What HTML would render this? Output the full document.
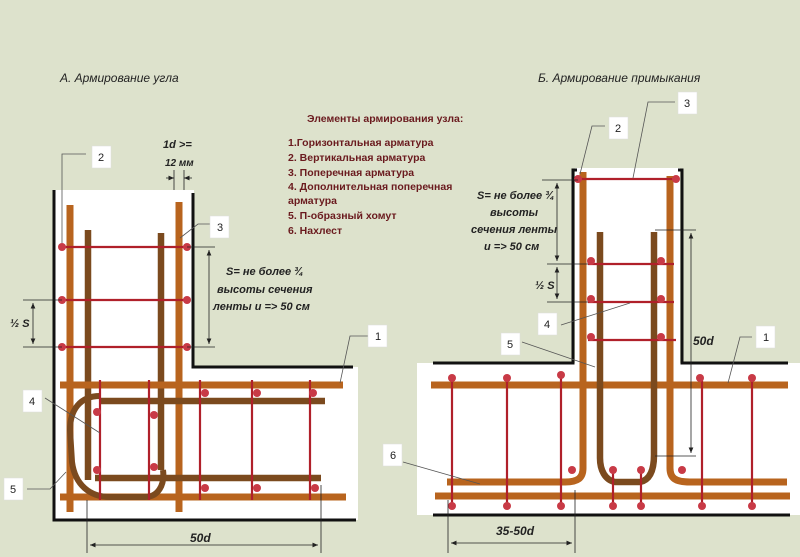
<!DOCTYPE html>
<html><head><meta charset="utf-8"><style>
html,body{margin:0;padding:0;background:#dde2cc;}
svg{display:block}
text{font-family:"Liberation Sans","DejaVu Sans",sans-serif;}
.lg{font-weight:bold;fill:#6a1a1e;font-size:10.5px}
.it{font-style:italic;font-weight:bold;font-size:11px;fill:#222}
.bx{fill:#fff;stroke:#ddd;stroke-width:0.5}
.nb{font-size:11px;fill:#222;text-anchor:middle}
.br{stroke:#b8641e;stroke-width:7}
.dk{stroke:#7b4a1e;stroke-width:6.5}
.rd{stroke:#b0202a;stroke-width:2.2}
.dot{fill:#c83a46}
.ol{stroke:#111;stroke-width:3;fill:none}
.thin{stroke:#222;stroke-width:0.8;fill:none}
.lead{stroke:#555;stroke-width:0.8;fill:none}
</style></head><body>
<svg width="800" height="557" viewBox="0 0 800 557" xmlns="http://www.w3.org/2000/svg">
<defs><marker id="a" markerWidth="8" markerHeight="8" refX="7" refY="4" orient="auto-start-reverse"><path d="M0,1 L7,4 L0,7Z" fill="#222"/></marker></defs>
<rect width="800" height="557" fill="#dde2cc"/>
<text x="60" y="82" class="it" style="font-weight:normal;font-size:12px">А. Армирование угла</text>
<text x="538" y="82" class="it" style="font-weight:normal;font-size:12px">Б. Армирование примыкания</text>
<text x="307" y="122" class="lg">Элементы армирования узла:</text>
<text x="288" y="146" class="lg">1.Горизонтальная арматура</text>
<text x="288" y="161" class="lg">2. Вертикальная арматура</text>
<text x="288" y="176" class="lg">3. Поперечная арматура</text>
<text x="288" y="190" class="lg">4. Дополнительная поперечная</text>
<text x="288" y="204" class="lg">арматура</text>
<text x="288" y="219" class="lg">5. П-образный хомут</text>
<text x="288" y="234" class="lg">6. Нахлест</text>

<!-- LEFT -->
<path d="M54,190 H194 V367 H358 V520 H54Z" fill="#fff"/>
<path d="M54,190 V520 H356" class="ol"/>
<path d="M193,193 V367 H353" class="ol"/>
<line x1="70" y1="205" x2="70" y2="512" class="br"/>
<line x1="179" y1="202" x2="179" y2="512" class="br"/>
<line x1="88" y1="230" x2="88" y2="480" class="dk"/>
<line x1="161" y1="233" x2="161" y2="470" class="dk"/>
<line x1="60" y1="385" x2="343" y2="385" class="br"/>
<line x1="100" y1="401" x2="325" y2="401" class="dk"/>
<line x1="95" y1="478" x2="321" y2="478" class="dk"/>
<line x1="60" y1="497" x2="346" y2="497" class="br"/>
<path d="M100,396 C80,396 70,410 70,430 L72,462 C75,485 90,497 110,497 H145 C158,497 165,485 163,470" stroke="#7b4a1e" stroke-width="6" fill="none"/>
<g class="rd"><line x1="62" y1="247" x2="187" y2="247"/><line x1="62" y1="300" x2="187" y2="300"/><line x1="62" y1="347" x2="187" y2="347"/>
<line x1="100" y1="380" x2="100" y2="500"/><line x1="149" y1="380" x2="149" y2="500"/><line x1="200" y1="380" x2="200" y2="500"/><line x1="252" y1="380" x2="252" y2="500"/><line x1="310" y1="380" x2="310" y2="500"/></g>
<g class="dot"><circle cx="62" cy="247" r="4"/><circle cx="187" cy="247" r="4"/><circle cx="62" cy="300" r="4"/><circle cx="187" cy="300" r="4"/><circle cx="62" cy="347" r="4"/><circle cx="187" cy="347" r="4"/>
<circle cx="205" cy="393" r="4"/><circle cx="257" cy="393" r="4"/><circle cx="313" cy="393" r="4"/><circle cx="97" cy="412" r="4"/><circle cx="154" cy="415" r="4"/><circle cx="97" cy="470" r="4"/><circle cx="154" cy="467" r="4"/><circle cx="205" cy="488" r="4"/><circle cx="257" cy="488" r="4"/><circle cx="315" cy="488" r="4"/></g>
<!-- dims left -->
<path d="M174,170 V190 M184,170 V190" class="thin"/>
<line x1="166" y1="178" x2="174" y2="178" class="thin" marker-end="url(#a)"/><line x1="192" y1="178" x2="184" y2="178" class="thin" marker-end="url(#a)"/>
<text x="163" y="148" class="it">1d &gt;=</text><text x="165" y="166" class="it" style="font-size:10px">12 мм</text>
<path d="M187,247 H215 M187,347 H215" class="thin"/>
<line x1="209" y1="250" x2="209" y2="344" class="thin" marker-start="url(#a)" marker-end="url(#a)"/>
<text x="226" y="275" class="it">S= не более ¾</text><text x="217" y="293" class="it">высоты сечения</text><text x="213" y="310" class="it">ленты и =&gt; 50 см</text>
<path d="M23,300 H62 M23,347 H62" class="thin"/>
<line x1="33" y1="303" x2="33" y2="344" class="thin" marker-start="url(#a)" marker-end="url(#a)"/>
<text x="10" y="327" class="it">½ S</text>
<path d="M87,500 V553 M321,485 V553" class="thin"/>
<line x1="90" y1="545" x2="318" y2="545" class="thin" marker-start="url(#a)" marker-end="url(#a)"/>
<text x="190" y="542" class="it" style="font-size:12px">50d</text>
<!-- leaders left -->
<path d="M62,243 V154 H86" class="lead"/><path d="M180,238 L198,224 H210" class="lead"/>
<path d="M340,383 L350,336 H368" class="lead"/><path d="M45,398 L100,433" class="lead"/><path d="M27,489 H50 L66,472" class="lead"/>
<rect x="92" y="146" width="19" height="22" class="bx"/><text x="101" y="161" class="nb">2</text>
<rect x="210" y="216" width="19" height="22" class="bx"/><text x="220" y="231" class="nb">3</text>
<rect x="368" y="325" width="19" height="22" class="bx"/><text x="378" y="340" class="nb">1</text>
<rect x="23" y="390" width="19" height="22" class="bx"/><text x="32" y="405" class="nb">4</text>
<rect x="4" y="478" width="19" height="22" class="bx"/><text x="13" y="493" class="nb">5</text>
<rect x="383" y="444" width="19" height="22" class="bx"/><text x="393" y="459" class="nb">6</text>

<!-- RIGHT -->
<path d="M575,168 H680 V363 H800 V515 H417 V363 H575Z" fill="#fff"/>
<path d="M577,170 H573 V363 H433" class="ol"/>
<path d="M678,170 H682 V363 H788" class="ol"/>
<line x1="433" y1="515" x2="790" y2="515" class="ol"/>
<line x1="431" y1="385" x2="788" y2="385" class="br"/>
<line x1="435" y1="496" x2="790" y2="496" class="br"/>
<line x1="447" y1="482" x2="565" y2="482" class="br"/>
<line x1="690" y1="482" x2="787" y2="482" class="br"/>
<path d="M583,172 V468 C583,478 578,482 565,482" class="br" fill="none"/>
<path d="M670,176 V468 C670,478 675,482 690,482" class="br" fill="none"/>
<path d="M600,232 V458 C600,470 605,480 615,482 H640 C650,480 654,470 654,455 V232" class="dk" fill="none"/>
<g class="rd"><line x1="578" y1="179" x2="677" y2="179"/><line x1="588" y1="264" x2="674" y2="264"/><line x1="588" y1="302" x2="674" y2="302"/><line x1="588" y1="340" x2="676" y2="340"/>
<line x1="452" y1="378" x2="452" y2="506"/><line x1="507" y1="378" x2="507" y2="506"/><line x1="561" y1="375" x2="561" y2="506"/><line x1="702" y1="378" x2="702" y2="506"/><line x1="752" y1="378" x2="752" y2="506"/><line x1="613" y1="470" x2="613" y2="506"/><line x1="641" y1="470" x2="641" y2="506"/></g>
<g class="dot"><circle cx="578" cy="179" r="4"/><circle cx="676" cy="179" r="4"/><circle cx="591" cy="261" r="4"/><circle cx="661" cy="261" r="4"/><circle cx="591" cy="299" r="4"/><circle cx="661" cy="299" r="4"/><circle cx="591" cy="337" r="4"/><circle cx="661" cy="337" r="4"/>
<circle cx="452" cy="378" r="4"/><circle cx="507" cy="378" r="4"/><circle cx="561" cy="375" r="4"/><circle cx="700" cy="378" r="4"/><circle cx="752" cy="378" r="4"/>
<circle cx="452" cy="506" r="4"/><circle cx="507" cy="506" r="4"/><circle cx="561" cy="506" r="4"/><circle cx="613" cy="506" r="4"/><circle cx="641" cy="506" r="4"/><circle cx="702" cy="506" r="4"/><circle cx="752" cy="506" r="4"/>
<circle cx="572" cy="470" r="4"/><circle cx="682" cy="470" r="4"/><circle cx="613" cy="470" r="4"/><circle cx="641" cy="470" r="4"/></g>
<!-- dims right -->
<path d="M542,180 H578 M547,264 H588 M547,302 H588" class="thin"/>
<line x1="557" y1="183" x2="557" y2="261" class="thin" marker-start="url(#a)" marker-end="url(#a)"/>
<line x1="557" y1="267" x2="557" y2="299" class="thin" marker-start="url(#a)" marker-end="url(#a)"/>
<text x="477" y="199" class="it">S= не более ¾</text><text x="490" y="216" class="it">высоты</text><text x="471" y="233" class="it">сечения ленты</text><text x="484" y="250" class="it">и =&gt; 50 см</text>
<text x="535" y="289" class="it">½ S</text>
<path d="M655,230 H696 M655,456 H696" class="thin"/>
<line x1="691" y1="233" x2="691" y2="453" class="thin" marker-start="url(#a)" marker-end="url(#a)"/>
<text x="693" y="345" class="it" style="font-size:12px">50d</text>
<path d="M448,500 V553 M575,490 V553" class="thin"/>
<line x1="451" y1="543" x2="572" y2="543" class="thin" marker-start="url(#a)" marker-end="url(#a)"/>
<text x="496" y="535" class="it" style="font-size:12px">35-50d</text>
<!-- leaders right -->
<path d="M580,174 L592,126 H605" class="lead"/><path d="M633,178 L648,102 H675" class="lead"/>
<path d="M561,325 L630,303" class="lead"/><path d="M522,342 L595,367" class="lead"/>
<path d="M728,383 L740,337 H752" class="lead"/><path d="M403,462 L480,484" class="lead"/>
<rect x="609" y="117" width="19" height="22" class="bx"/><text x="618" y="132" class="nb">2</text>
<rect x="678" y="92" width="19" height="22" class="bx"/><text x="687" y="107" class="nb">3</text>
<rect x="538" y="313" width="19" height="22" class="bx"/><text x="547" y="328" class="nb">4</text>
<rect x="501" y="333" width="19" height="22" class="bx"/><text x="510" y="348" class="nb">5</text>
<rect x="756" y="326" width="19" height="22" class="bx"/><text x="766" y="341" class="nb">1</text>
</svg>
</body></html>
